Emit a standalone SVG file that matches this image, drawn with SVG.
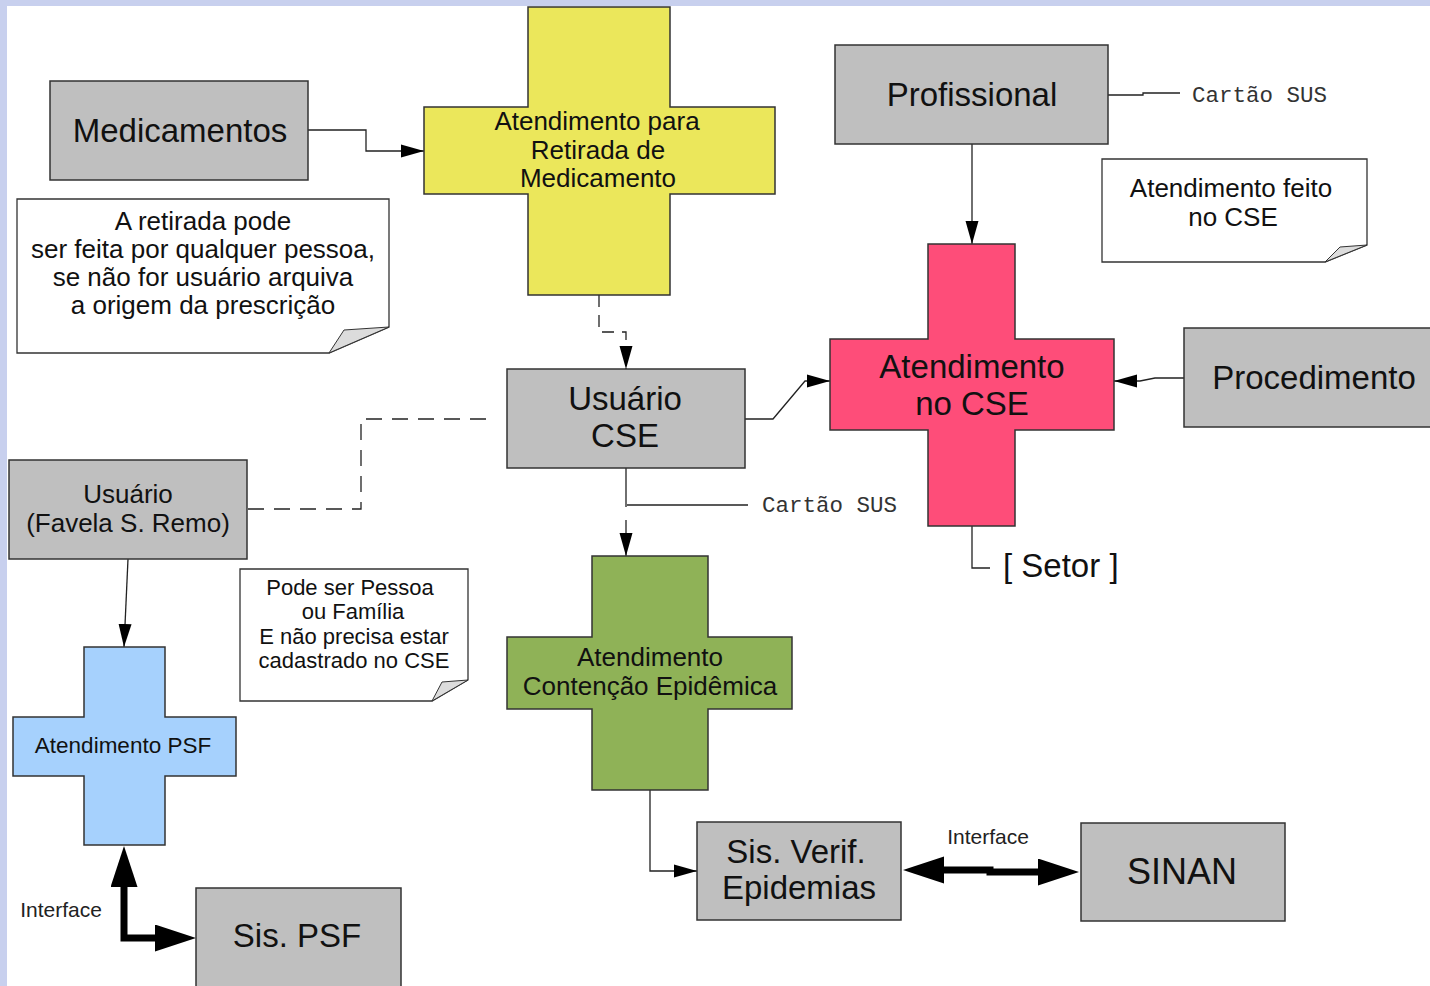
<svg xmlns="http://www.w3.org/2000/svg" width="1430" height="986" viewBox="0 0 1430 986">
<defs>
<style>
.box{fill:#bfbfbf;stroke:#333;stroke-width:1.5}
.note{fill:#fff;stroke:#333;stroke-width:1.3}
.fold{fill:#dcdcdc;stroke:#333;stroke-width:1}
.cross{stroke:#333;stroke-width:1.5}
.t{font-family:"Liberation Sans",Arial,sans-serif;fill:#111;text-anchor:middle}
.big{font-size:33px}
.med{font-size:26px}
.sm{font-size:22.5px}
.xs{font-size:22px}
.lbl{font-family:"Liberation Sans",Arial,sans-serif;font-size:21px;fill:#222;text-anchor:middle}
.mono{font-family:"Liberation Mono","Courier New",monospace;font-size:22.5px;fill:#333}
.c{fill:none;stroke:#222;stroke-width:1.3}
.d{stroke-dasharray:16,10}
.d2{stroke-dasharray:12,8}
.thick{fill:none;stroke:#000;stroke-width:7}
</style>
<marker id="arr" markerUnits="userSpaceOnUse" markerWidth="24" markerHeight="14" refX="23" refY="7" orient="auto">
<path d="M0,0.5 L23,7 L0,13.5 Z" fill="#000"/>
</marker>
<marker id="big" markerUnits="userSpaceOnUse" markerWidth="42" markerHeight="28" refX="1" refY="13.5" orient="auto-start-reverse">
<path d="M0,0 L41,13.5 L0,27 Z" fill="#000"/>
</marker>
</defs>
<rect x="0" y="0" width="1430" height="986" fill="#c8d0ee"/>
<rect x="7" y="6" width="1423" height="980" fill="#fff"/>

<g id="connectors">
<path class="c" d="M308,130 H366 V151 H424" marker-end="url(#arr)"/>
<path class="c" d="M972,144 V244" marker-end="url(#arr)"/>
<path class="c" d="M1184,378 H1155 L1140,381 H1114" marker-end="url(#arr)"/>
<path class="c d2" d="M599,295 V332 H626 V369" marker-end="url(#arr)"/>
<path class="c" d="M745,419 H773 L805,381 H830" marker-end="url(#arr)"/>
<path class="c d" d="M248,509 H361 V419 H495"/>
<path class="c" d="M128,559 L124,647" marker-end="url(#arr)"/>
<path class="c" d="M626,468 V507"/>
<path class="c" d="M626,520 V556" marker-end="url(#arr)"/>
<path class="c" d="M627,505 H748"/>
<path class="c" d="M650,790 V871 H697" marker-end="url(#arr)"/>
<path class="c" d="M972,526 V568 H990"/>
<path class="c" d="M1108,95 H1143 V93 H1180"/>
<path class="thick" d="M124,886 V938 H156" marker-start="url(#big)" marker-end="url(#big)"/>
<path class="thick" d="M943,870 H990 V872 H1039" marker-start="url(#big)" marker-end="url(#big)"/>
<text class="mono" x="1192" y="102">Cartão SUS</text>
<text class="mono" x="762" y="512">Cartão SUS</text>
<text class="lbl" x="61" y="917">Interface</text>
<text class="lbl" x="988" y="844">Interface</text>
<text class="t big" x="1003" y="577" style="text-anchor:start">[ Setor ]</text>
</g>

<g id="medicamentos">
<rect class="box" x="50" y="81" width="258" height="99"/>
<text class="t big" x="180" y="142">Medicamentos</text>
</g>

<g id="atendimento-retirada">
<path class="cross" fill="#ebe75b" d="M528,7 H670 V107 H775 V194 H670 V295 H528 V194 H424 V107 H528 Z"/>
<text class="t med" x="597" y="130">Atendimento para</text>
<text class="t med" x="598" y="159">Retirada de</text>
<text class="t med" x="598" y="187">Medicamento</text>
</g>

<g id="nota-retirada">
<path class="note" d="M17,199 H389 V327 L329,353 H17 Z"/>
<path class="fold" d="M389,327 L344,330 L329,353 Z"/>
<text class="t med" x="203" y="230">A retirada pode</text>
<text class="t med" x="203" y="258">ser feita por qualquer pessoa,</text>
<text class="t med" x="203" y="286">se não for usuário arquiva</text>
<text class="t med" x="203" y="314">a origem da prescrição</text>
</g>

<g id="profissional">
<rect class="box" x="835" y="45" width="273" height="99"/>
<text class="t big" x="972" y="106">Profissional</text>
</g>

<g id="nota-cse">
<path class="note" d="M1102,159 H1367 V245 L1325,262 H1102 Z"/>
<path class="fold" d="M1367,245 L1340,247 L1325,262 Z"/>
<text class="t med" x="1231" y="197">Atendimento feito</text>
<text class="t med" x="1233" y="226">no CSE</text>
</g>

<g id="atendimento-cse">
<path class="cross" fill="#fe4d79" d="M928,244 H1015 V339 H1114 V430 H1015 V526 H928 V430 H830 V339 H928 Z"/>
<text class="t big" x="972" y="378">Atendimento</text>
<text class="t big" x="972" y="415">no CSE</text>
</g>

<g id="procedimento">
<rect class="box" x="1184" y="328" width="260" height="99"/>
<text class="t big" x="1314" y="389">Procedimento</text>
</g>

<g id="usuario-cse">
<rect class="box" x="507" y="369" width="238" height="99"/>
<text class="t big" x="625" y="410">Usuário</text>
<text class="t big" x="625" y="447">CSE</text>
</g>

<g id="usuario-favela">
<rect class="box" x="9" y="460" width="238" height="99"/>
<text class="t med" x="128" y="503">Usuário</text>
<text class="t med" x="128" y="532">(Favela S. Remo)</text>
</g>

<g id="nota-familia">
<path class="note" d="M240,569 H468 V680 L432,701 H240 Z"/>
<path class="fold" d="M468,680 L442,682 L432,701 Z"/>
<text class="t xs" x="350" y="595">Pode ser Pessoa</text>
<text class="t xs" x="353" y="619">ou Família</text>
<text class="t xs" x="354" y="644">E não precisa estar</text>
<text class="t xs" x="354" y="668">cadastrado no CSE</text>
</g>

<g id="atendimento-psf">
<path class="cross" fill="#a6d1fd" d="M84,647 H165 V717 H236 V776 H165 V845 H84 V776 H13 V717 H84 Z"/>
<text class="t sm" x="123" y="753">Atendimento PSF</text>
</g>

<g id="atendimento-epidemica">
<path class="cross" fill="#8fb257" d="M592,556 H708 V637 H792 V709 H708 V790 H592 V709 H507 V637 H592 Z"/>
<text class="t med" x="650" y="666">Atendimento</text>
<text class="t med" x="650" y="695">Contenção Epidêmica</text>
</g>

<g id="sis-psf">
<rect class="box" x="196" y="888" width="205" height="110"/>
<text class="t big" x="297" y="947">Sis. PSF</text>
</g>

<g id="sis-verif">
<rect class="box" x="697" y="822" width="204" height="98"/>
<text class="t big" x="796" y="863">Sis. Verif.</text>
<text class="t big" x="799" y="899">Epidemias</text>
</g>

<g id="sinan">
<rect class="box" x="1081" y="823" width="204" height="98"/>
<text class="t" x="1182" y="884" style="font-size:36px">SINAN</text>
</g>
</svg>
